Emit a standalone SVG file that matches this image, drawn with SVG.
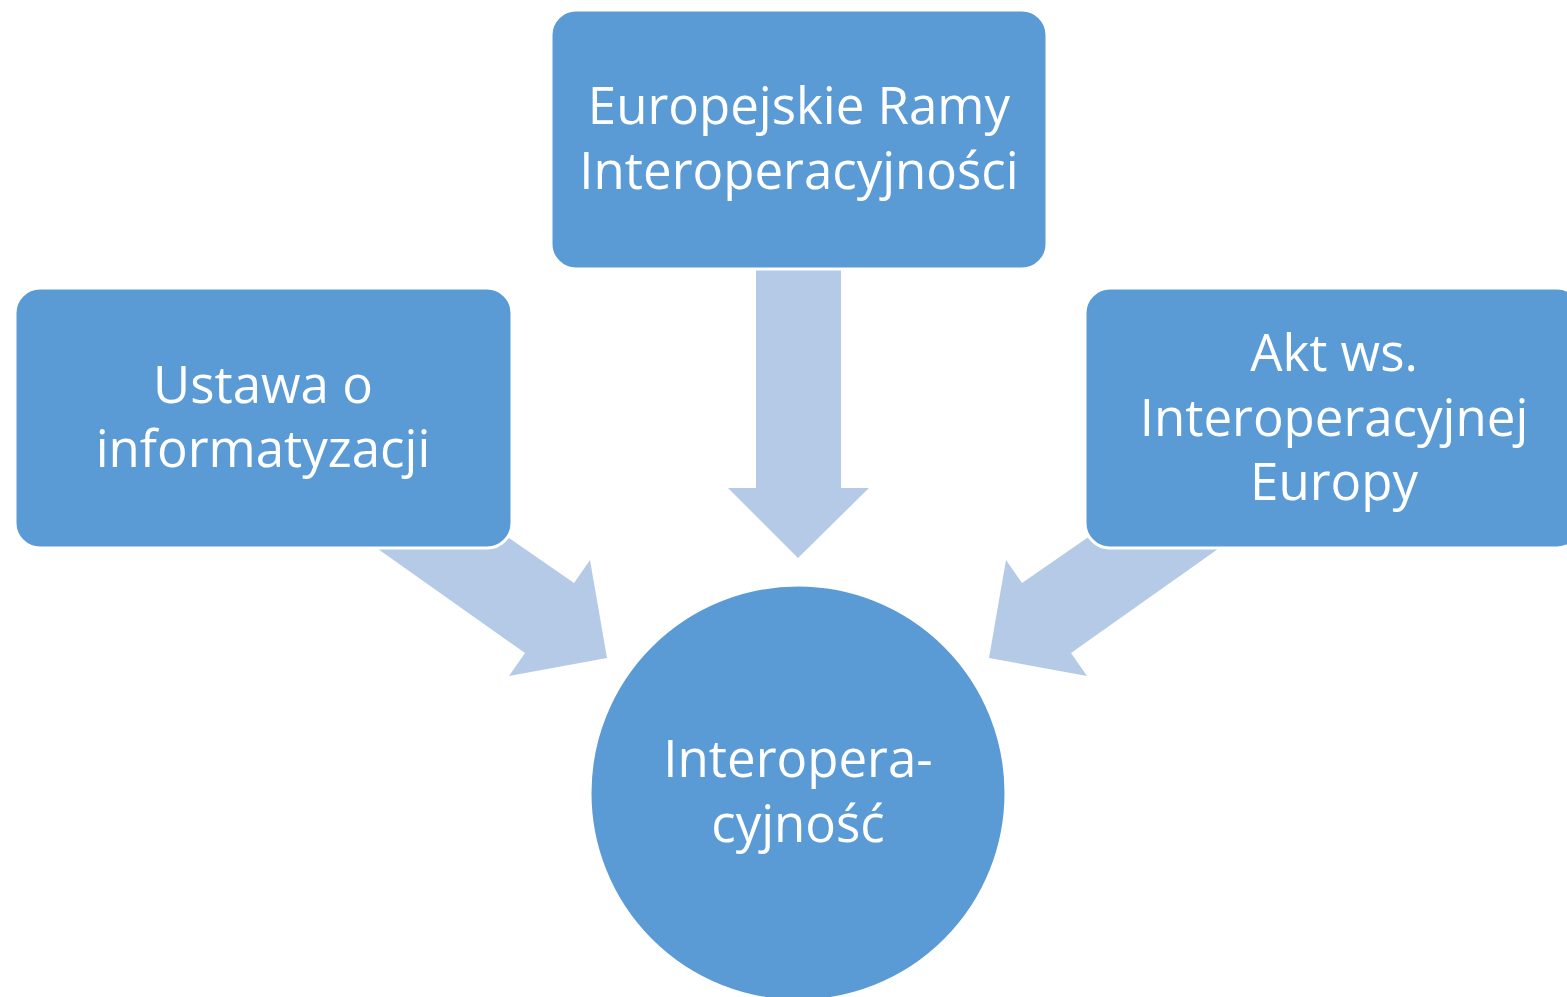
<svg xmlns="http://www.w3.org/2000/svg" width="1567" height="997" viewBox="0 0 1567 997">
<style>
.arrow{fill:#B5CAE7}
.node{fill:#5B9BD5;stroke:#FFFFFF;stroke-width:3}
.lbl{font-family:"Open Sans","Liberation Sans",sans-serif;font-size:51px;fill:#FFFFFF;text-anchor:middle}
</style>
<rect width="1567" height="997" fill="#FFFFFF"/>
<g id="connectors">
<polygon class="arrow" points="304,497 378,549 525,653 509,676 607,658 590,560 574,583 509,538 435,486"/>
<polygon class="arrow" points="1292,497 1218,549 1071,653 1087,676 989,658 1006,560 1022,583 1087,538 1161,486"/>
<polygon class="arrow" points="756,240 841,240 841,488 869,488 798,558 728,488 756,488"/>
</g>
<g id="node-top">
<rect class="node" x="551" y="10" width="496" height="259" rx="25"/>
<text class="lbl" x="799" y="124">Europejskie Ramy</text>
<text class="lbl" x="799" y="189">Interoperacyjności</text>
</g>
<g id="node-left">
<rect class="node" x="15" y="288" width="497" height="260" rx="25"/>
<text class="lbl" x="263" y="403">Ustawa o</text>
<text class="lbl" x="263" y="467">informatyzacji</text>
</g>
<g id="node-right">
<rect class="node" x="1085" y="288" width="497" height="260" rx="25"/>
<text class="lbl" x="1334" y="371">Akt ws.</text>
<text class="lbl" x="1334" y="436">Interoperacyjnej</text>
<text class="lbl" x="1334" y="500">Europy</text>
</g>
<g id="node-center">
<circle class="node" cx="798" cy="793" r="208"/>
<text class="lbl" x="798" y="777">Interopera-</text>
<text class="lbl" x="798" y="842">cyjność</text>
</g>
</svg>
